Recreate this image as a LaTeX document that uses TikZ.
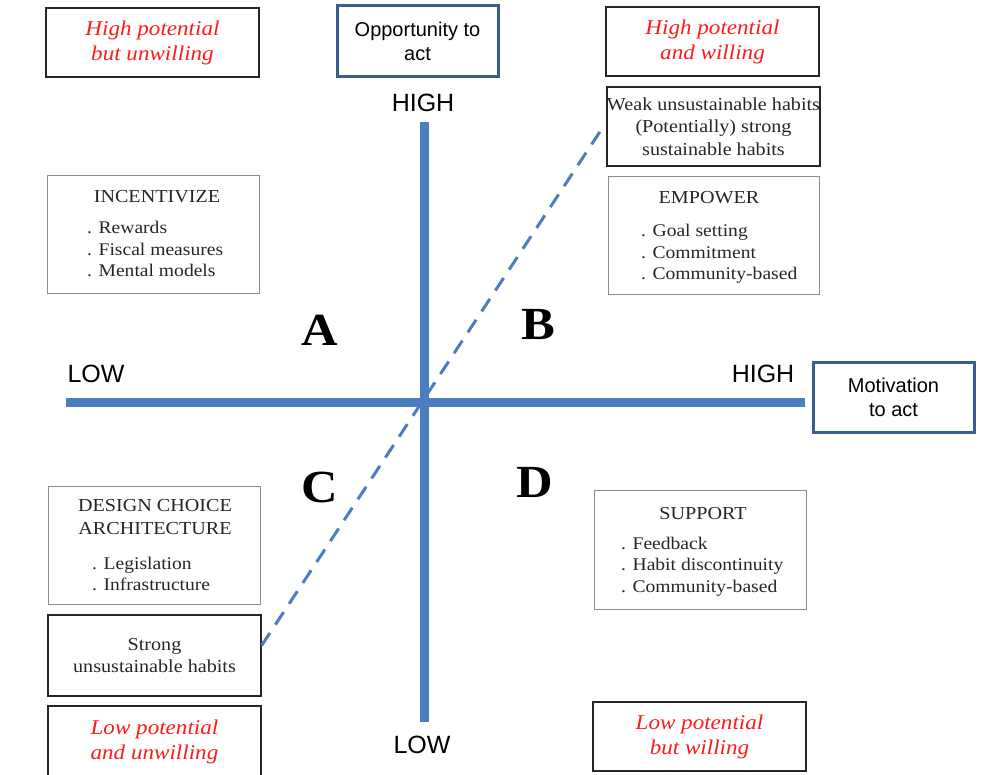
\documentclass[tikz,border=0pt]{standalone}
\usepackage{fontspec}
\setmainfont[FakeStretch=1.1]{Liberation Serif}
\setsansfont{Liberation Sans}
\usetikzlibrary{calc}
\definecolor{axisblue}{HTML}{4A7EBF}
\definecolor{frameblue}{HTML}{3A5F8E}
\definecolor{hotred}{HTML}{FF1A1A}
\definecolor{softgray}{HTML}{8C8C8C}
\tikzset{
  plainbox/.style={draw=black!85, line width=1.3pt, inner sep=0pt},
  listbox/.style={draw=softgray, line width=0.9pt, inner sep=0pt},
  axisbox/.style={draw=frameblue, line width=3pt, inner sep=0pt,
    font=\sffamily\fontsize{20}{24}\selectfont, align=center},
  verdict/.style={plainbox, text=hotred, align=center,
    font=\itshape\fontsize{21}{25}\selectfont},
  habit/.style={plainbox, align=center, text=black!85,
    font=\fontsize{18.3}{22.5}\selectfont},
  headtxt/.style={text=black!85, align=center, font=\fontsize{18.3}{23.5}\selectfont},
  itemtxt/.style={text=black!85, align=left, anchor=north west,
    font=\fontsize{17.8}{21.7}\selectfont, inner sep=0pt},
  axislabel/.style={font=\sffamily\fontsize{25}{28}\selectfont},
  quadrant/.style={font=\bfseries\fontsize{46}{50}\selectfont},
  axisline/.style={draw=axisblue, line width=9pt},
  diagonal/.style={draw=axisblue, line width=3pt, dash pattern=on 15pt off 10pt}
}
\begin{document}
\begin{tikzpicture}[x=1pt, y=-1pt]
\useasboundingbox (0,0) rectangle (981,775);

% axes
\coordinate (vtop) at (424,122);
\coordinate (vbot) at (424,722);
\coordinate (hleft) at (66,402);
\coordinate (hright) at (805,402);
\draw[axisline] (vtop) -- (vbot);
\draw[axisline] (hleft) -- (hright);

% axis titles
\node[axisbox, minimum width=161pt, minimum height=71pt] (opp) at (417.5,41.5) {Opportunity to\\act};
\node[axisbox, minimum width=161pt, minimum height=70pt] (mot) at (893.5,397) {Motivation\\to act};

% axis ends
\node[axislabel] (yhigh) at (423,103) {HIGH};
\node[axislabel] (ylow) at (422,745) {LOW};
\node[axislabel] (xlow) at (96,374) {LOW};
\node[axislabel] (xhigh) at (763,374) {HIGH};

% quadrant letters
\node[quadrant] (qa) at (320,330) {A};
\node[quadrant] (qb) at (538,325) {B};
\node[quadrant] (qc) at (320,487) {C};
\node[quadrant] (qd) at (535,482) {D};

% red verdict boxes
\node[verdict, minimum width=213pt, minimum height=69pt] (hpu) at (152.5,42.5) {High potential\\but unwilling};
\node[verdict, minimum width=213pt, minimum height=69pt] (hpw) at (712.5,41.5) {High potential\\and willing};
\node[verdict, minimum width=213pt, minimum height=72pt] (lpu) at (154.5,742) {Low potential\\and unwilling};
\node[verdict, minimum width=213pt, minimum height=69pt] (lpb) at (699.5,736.5) {Low potential\\but willing};

% habit boxes
\node[habit, minimum width=213pt, minimum height=79pt] (weak) at (713.5,126.5)
  {Weak unsustainable habits\\(Potentially) strong\\sustainable habits};
\node[habit, minimum width=213pt, minimum height=81pt] (strong) at (154.5,655.5)
  {Strong\\unsustainable habits};

% strategy boxes
\node[listbox, minimum width=212pt, minimum height=118pt] (inc) at (153,234) {};
\node[headtxt] (inct) at (157,197) {INCENTIVIZE};
\node[itemtxt] (inci) at (87,221) {. Rewards\\. Fiscal measures\\. Mental models};

\node[listbox, minimum width=211pt, minimum height=118pt] (emp) at (713.5,235) {};
\node[headtxt] (empt) at (709,198) {EMPOWER};
\node[itemtxt] (empi) at (641,224) {. Goal setting\\. Commitment\\. Community-based};

\node[listbox, minimum width=212pt, minimum height=118pt] (des) at (154,545) {};
\node[headtxt] (dest) at (155,517) {DESIGN CHOICE\\ARCHITECTURE};
\node[itemtxt] (desi) at (92,556.5) {. Legislation\\. Infrastructure};

\node[listbox, minimum width=212pt, minimum height=119pt] (sup) at (700,549.5) {};
\node[headtxt] (supt) at (703,514) {SUPPORT};
\node[itemtxt] (supi) at (621,536.5) {. Feedback\\. Habit discontinuity\\. Community-based};

% diagonal link between the two habit boxes
\draw[diagonal] ([yshift=10pt]strong.east) -- ([xshift=-2pt, yshift=1.5pt]weak.west);
\end{tikzpicture}
\end{document}
